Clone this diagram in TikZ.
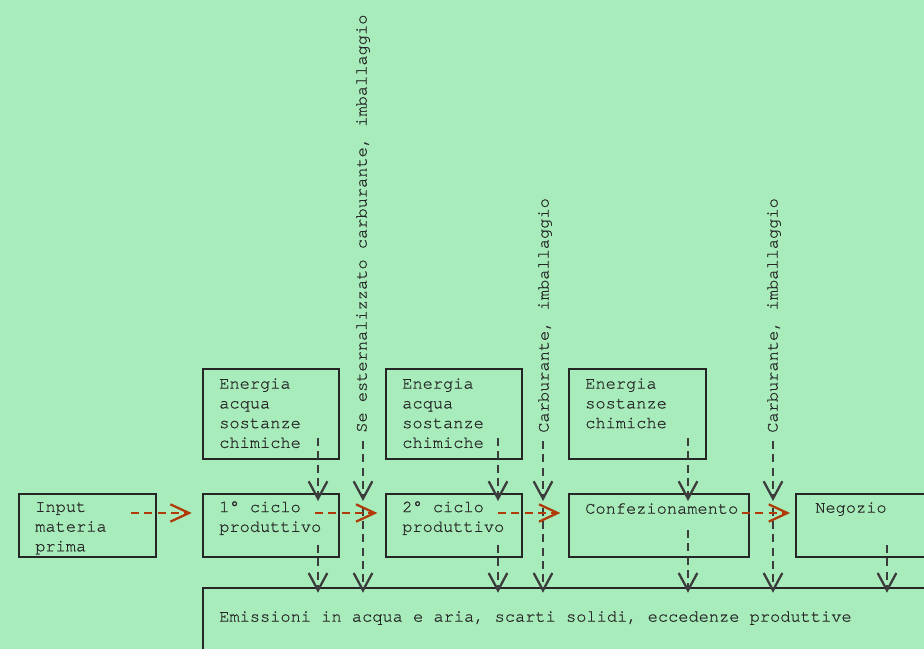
\documentclass[tikz,border=0pt]{standalone}
\usepackage{fontspec}
\setmonofont{TeX Gyre Cursor}[UprightFeatures={FakeBold=0.6}]
\usetikzlibrary{arrows.meta, positioning, fit, calc}
\definecolor{bgmint}{RGB}{168,236,187}
\definecolor{rust}{RGB}{176,58,8}
\definecolor{ink}{RGB}{38,38,38}

\begin{document}
\begin{tikzpicture}[
        x=0.75pt, y=-0.75pt,
        font=\ttfamily\fontsize{12.75}{14.8}\selectfont,
        box/.style={
            rectangle,
            draw=ink,
            line width=0.9pt,
            inner sep=0pt
        },
        txt/.style={
            anchor=north west,
            align=left,
            inner sep=0pt,
            text=ink
        },
        side/.style={
            rotate=90,
            anchor=west,
            inner sep=0pt,
            text=ink
        },
        down/.style={
            -{Straight Barb[length=13pt, width=14pt, line width=1.7pt]},
            dash pattern=on 6pt off 4pt,
            line width=1pt,
            draw=ink!90
        },
        flow/.style={
            -{Straight Barb[length=14pt, width=13pt, line width=1.7pt]},
            dash pattern=on 6pt off 4pt,
            line width=1pt,
            draw=rust
        }
    ]

    \path[use as bounding box, fill=bgmint] (0,0) rectangle (924,649);

    % boxes
    \node (input) [box, fit={(19,494) (156,557)}] {};
    \node (e1) [box, fit={(203,369) (339,459)}] {};
    \node (c1) [box, fit={(203,494) (339,557)}] {};
    \node (e2) [box, fit={(386,369) (522,459)}] {};
    \node (c2) [box, fit={(386,494) (522,557)}] {};
    \node (e3) [box, fit={(569,369) (706,459)}] {};
    \node (c3) [box, fit={(569,494) (749,557)}] {};
    \node (shop) [box, fit={(796,494) (940,557)}] {};
    \node (em) [box, fit={(203,588) (940,670)}] {};

    % texts
    \node (inputT) [txt] at (35,502) {Input\\materia\\prima};
    \node (e1T) [txt] at (219,378) {Energia\\acqua\\sostanze\\chimiche};
    \node (c1T) [txt] at (219,501) {1° ciclo\\produttivo};
    \node (e2T) [txt] at (402,378) {Energia\\acqua\\sostanze\\chimiche};
    \node (c2T) [txt] at (402,501) {2° ciclo\\produttivo};
    \node (e3T) [txt] at (585,378) {Energia\\sostanze\\chimiche};
    \node (c3T) [txt] at (585,503) {Confezionamento};
    \node (shopT) [txt] at (815,502) {Negozio};
    \node (emT) [txt] at (219,611) {Emissioni in acqua e aria, scarti solidi, eccedenze produttive};

    % side labels
    \node (se) [side] at (363,433) {Se esternalizzato carburante, imballaggio};
    \node (fuel1) [side] at (545,433) {Carburante, imballaggio};
    \node (fuel2) [side] at (774,433) {Carburante, imballaggio};

    \coordinate (seIn) at (363,501);
    \coordinate (fuel1In) at (543,501);
    \coordinate (fuel2In) at (773,501);

    % inputs from above
    \draw [down] (318,438) -- (318,501);
    \draw [down] (498,438) -- (498,501);
    \draw [down] (688,438) -- (688,501);
    \draw [down, shorten <=6pt] (se.west) -- (seIn);
    \draw [down, shorten <=6pt] (fuel1.west -| fuel1In) -- (fuel1In);
    \draw [down, shorten <=6pt] (fuel2.west -| fuel2In) -- (fuel2In);

    % outputs to emissions
    \draw [down] (318,545) -- ([yshift=-4pt]em.north -| 318,0);
    \draw [down] ([yshift=-5pt]seIn) -- ([yshift=-4pt]em.north -| seIn);
    \draw [down] (498,545) -- ([yshift=-4pt]em.north -| 498,0);
    \draw [down] ([yshift=-5pt]fuel1In) -- ([yshift=-4pt]em.north -| fuel1In);
    \draw [down] (688,530) -- ([yshift=-4pt]em.north -| 688,0);
    \draw [down] ([yshift=-5pt]fuel2In) -- ([yshift=-4pt]em.north -| fuel2In);
    \draw [down] (887,545) -- ([yshift=-4pt]em.north -| 887,0);

    % product flow
    \draw [flow] (131,513) -- ([xshift=-8pt]c1.west |- 0,513);
    \draw [flow] (315,513) -- ([xshift=-6pt]c2.west |- 0,513);
    \draw [flow] (498,513) -- ([xshift=-6pt]c3.west |- 0,513);
    \draw [flow] (742,513) -- ([xshift=-4pt]shop.west |- 0,513);

\end{tikzpicture}
\end{document}
